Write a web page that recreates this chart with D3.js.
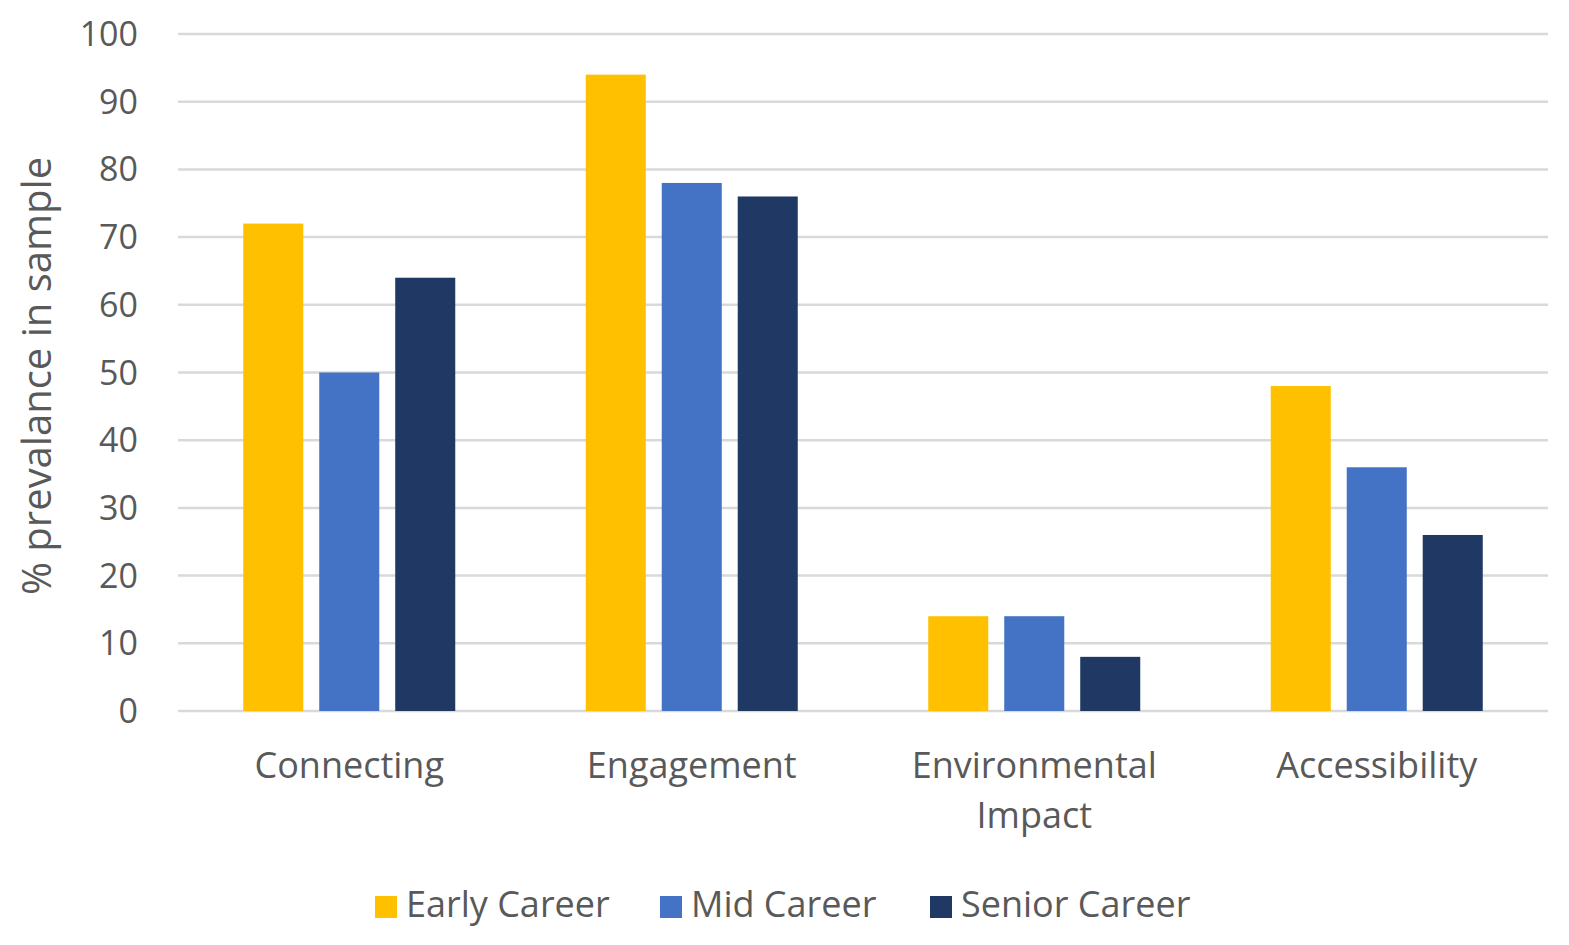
<html>
<head>
<script src="https://d3js.org/d3.v7.min.js" charset="utf-8"></script>
<style>
body { margin: 0; background: white; font-family: "Open Sans", sans-serif; }
</style>
</head>
<body>
<script>
// chart data
var categories = [["Connecting"], ["Engagement"], ["Environmental", "Impact"], ["Accessibility"]];
var seriesNames = ["Early Career", "Mid Career", "Senior Career"];
var earlyCareer = [72, 94, 14, 48];
var midCareer = [50, 78, 14, 36];
var seniorCareer = [64, 76, 8, 26];
var yTicks = [0, 10, 20, 30, 40, 50, 60, 70, 80, 90, 100];

var colors = ["#FFC000", "#4472C4", "#203864"];
var series = [earlyCareer, midCareer, seniorCareer];

var width = 1569, height = 945;
var plotLeft = 178, plotRight = 1548, plotTop = 34, plotBottom = 711;

var svg = d3.select("body").append("svg")
  .attr("width", width)
  .attr("height", height);

var y = d3.scaleLinear().domain([0, 100]).range([plotBottom, plotTop]);
var x = d3.scaleBand().domain(d3.range(categories.length)).range([plotLeft, plotRight]);
var xInner = d3.scaleBand().domain(d3.range(series.length))
  .range([x.bandwidth() / 2 - 106, x.bandwidth() / 2 + 106]).paddingInner(0.21);

// gridlines
svg.append("g").selectAll("line")
  .data(yTicks)
  .enter().append("line")
  .attr("x1", plotLeft).attr("x2", plotRight)
  .attr("y1", function(d) { return y(d); })
  .attr("y2", function(d) { return y(d); })
  .attr("stroke", "#d9d9d9")
  .attr("stroke-width", 2.5);

// y tick labels
svg.append("g").selectAll("text")
  .data(yTicks)
  .enter().append("text")
  .attr("x", 138)
  .attr("y", function(d) { return y(d) + 12; })
  .attr("text-anchor", "end")
  .attr("font-size", 34)
  .attr("fill", "#595959")
  .text(function(d) { return d; });

// bars
series.forEach(function(vals, s) {
  svg.append("g").selectAll("rect")
    .data(vals)
    .enter().append("rect")
    .attr("x", function(d, i) { return x(i) + xInner(s); })
    .attr("width", xInner.bandwidth())
    .attr("y", function(d) { return y(d); })
    .attr("height", function(d) { return plotBottom - y(d); })
    .attr("fill", colors[s]);
});

// category labels
var cat = svg.append("g").selectAll("text")
  .data(categories)
  .enter().append("text")
  .attr("x", function(d, i) { return x(i) + x.bandwidth() / 2; })
  .attr("y", 778)
  .attr("text-anchor", "middle")
  .attr("font-size", 36)
  .attr("fill", "#595959");
cat.selectAll("tspan")
  .data(function(d) { return d; })
  .enter().append("tspan")
  .attr("x", function() { return d3.select(this.parentNode).attr("x"); })
  .attr("dy", function(d, i) { return i == 0 ? 0 : 50; })
  .text(function(d) { return d; });

// y axis title
svg.append("text")
  .attr("transform", "translate(51,376) rotate(-90)")
  .attr("text-anchor", "middle")
  .attr("font-size", 40)
  .attr("fill", "#595959")
  .text("% prevalance in sample");

// legend
var legendX = [375, 660, 930];
var legend = svg.append("g").selectAll("g")
  .data(seriesNames)
  .enter().append("g")
  .attr("transform", function(d, i) { return "translate(" + legendX[i] + ",896)"; });
legend.append("rect")
  .attr("width", 22).attr("height", 22)
  .attr("fill", function(d, i) { return colors[i]; });
legend.append("text")
  .attr("x", 31).attr("y", 21)
  .attr("font-size", 36)
  .attr("fill", "#595959")
  .text(function(d) { return d; });
</script>
</body>
</html>
